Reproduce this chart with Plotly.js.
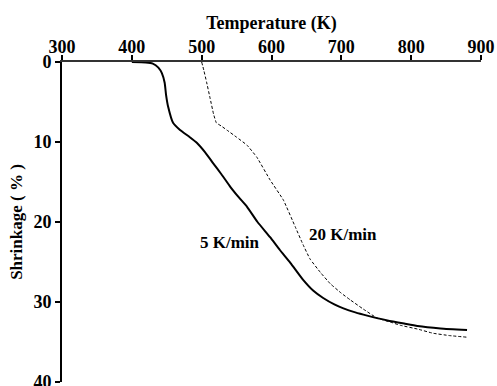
<!DOCTYPE html>
<html>
<head>
<meta charset="utf-8">
<script src="https://cdn.plot.ly/plotly-3.0.1.min.js"></script>
<style>html,body{margin:0;padding:0;background:#fff;}#chart{width:497px;height:386px;}</style>
</head>
<body>
<div id="chart"></div>
<script>
// Temperature (K) and shrinkage (%)
const temp5 = [400, 420, 430, 438, 443, 447, 449, 452, 459, 469, 483, 493, 505, 516, 528, 541, 553, 565, 580, 598, 612, 627, 645, 660, 674, 690, 703, 720, 737, 766, 790, 809, 842, 880];
const shrink5 = [0, 0.05, 0.2, 0.7, 1.4, 2.6, 4.1, 5.6, 7.6, 8.5, 9.4, 10.1, 11.3, 12.6, 14.0, 15.6, 16.9, 18.1, 20.0, 21.9, 23.5, 25.1, 27.2, 28.6, 29.5, 30.3, 30.8, 31.3, 31.7, 32.3, 32.7, 33.0, 33.3, 33.5];
const temp20 = [500, 503, 507, 512, 517, 521, 528, 536, 550, 565, 579, 598, 617, 634, 645, 655, 670, 684, 700, 713, 730, 751, 770, 784, 810, 831, 855, 880];
const shrink20 = [0, 1.0, 2.5, 4.5, 6.5, 7.6, 8.0, 8.5, 9.4, 10.4, 11.9, 14.75, 17.25, 20.6, 22.8, 24.6, 26.3, 27.7, 28.9, 29.75, 30.8, 32.0, 32.5, 32.9, 33.4, 33.9, 34.2, 34.4];
const seriesNames = ["5 K/min", "20 K/min"];
const xTicks = [300, 400, 500, 600, 700, 800, 900];
const yTicks = [0, 10, 20, 30, 40];

const F = {family: '"Liberation Serif", "Times New Roman", serif', size: 17, color: '#000', weight: 'bold'};
const FT = {family: F.family, size: 18, color: '#000', weight: 'bold'};

const traces = [
  {x: temp5, y: shrink5, name: seriesNames[0], mode: 'lines', line: {color: '#000', width: 2, shape: 'spline', smoothing: 0.5}},
  {x: temp20, y: shrink20, name: seriesNames[1], mode: 'lines', line: {color: '#000', width: 1, dash: '3px,2px', shape: 'spline', smoothing: 0.3}}
];

const layout = {
  width: 497, height: 386,
  margin: {l: 62, r: 16, t: 62, b: 4},
  paper_bgcolor: '#fff', plot_bgcolor: '#fff',
  showlegend: false,
  font: F,
  xaxis: {
    side: 'top', range: [300, 900], tickvals: xTicks, ticktext: xTicks.map(String),
    showgrid: false, zeroline: false, showline: true, linecolor: '#333', linewidth: 2,
    ticks: 'outside', ticklen: 5, tickwidth: 2, tickcolor: '#000', tickfont: FT,
    ticklabelstandoff: -5, ticklabeloverflow: 'allow',
    title: {text: 'Temperature (K)', font: FT, standoff: 2}
  },
  yaxis: {
    range: [40, 0], tickvals: yTicks, ticktext: yTicks.map(String),
    showgrid: false, zeroline: false, showline: true, linecolor: '#000', linewidth: 2,
    ticks: 'outside', ticklen: 5, tickwidth: 2, tickcolor: '#000', tickfont: FT,
    ticklabeloverflow: 'allow',
    title: {text: 'Shrinkage ( % )', font: {family: F.family, size: 17, color: '#000', weight: 'bold'}, standoff: 6}
  },
  annotations: [
    {x: 541, y: 22.6, xref: 'x', yref: 'y', text: seriesNames[0], showarrow: false, font: F},
    {x: 703, y: 21.6, xref: 'x', yref: 'y', text: seriesNames[1], showarrow: false, font: F}
  ]
};

Plotly.newPlot('chart', traces, layout, {staticPlot: true, displayModeBar: false});
</script>
</body>
</html>
